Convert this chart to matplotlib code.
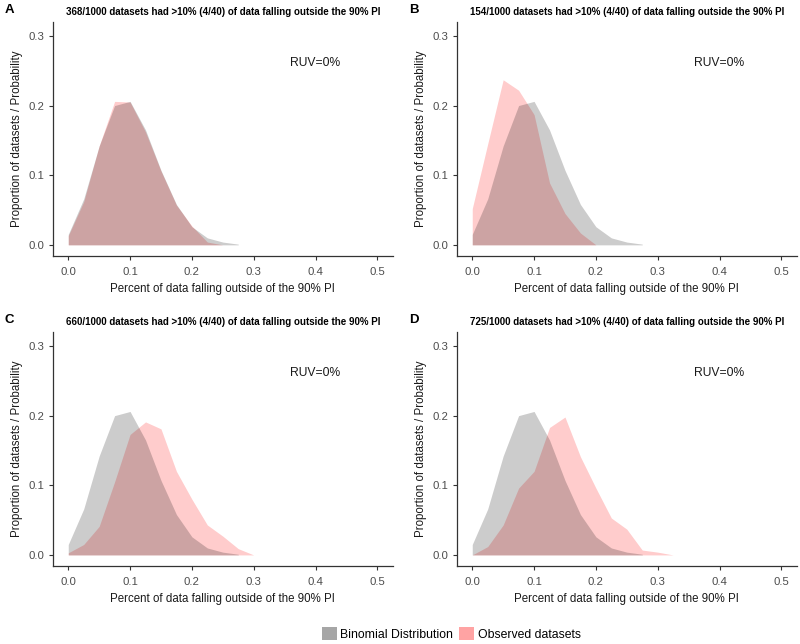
import numpy as np
import matplotlib.pyplot as plt
from matplotlib.patches import Patch

plt.rcParams['font.family'] = ['Liberation Sans', 'DejaVu Sans']

# x positions: k/40 data falling outside the PI
x_binom = [0.0, 0.025, 0.05, 0.075, 0.1, 0.125, 0.15, 0.175, 0.2, 0.225, 0.25, 0.275]
y_binom = [0.015, 0.066, 0.142, 0.200, 0.206, 0.165, 0.107, 0.058, 0.026, 0.010, 0.004, 0.001]

x_obs_a = [0.0, 0.025, 0.05, 0.075, 0.1, 0.125, 0.15, 0.175, 0.2, 0.225, 0.25]
y_obs_a = [0.013, 0.062, 0.142, 0.206, 0.205, 0.162, 0.106, 0.057, 0.027, 0.004, 0.0]

x_obs_b = [0.0, 0.025, 0.05, 0.075, 0.1, 0.125, 0.15, 0.175, 0.2]
y_obs_b = [0.052, 0.145, 0.237, 0.222, 0.187, 0.089, 0.045, 0.017, 0.0]

x_obs_c = [0.0, 0.025, 0.05, 0.075, 0.1, 0.125, 0.15, 0.175, 0.2, 0.225, 0.25, 0.275, 0.3]
y_obs_c = [0.003, 0.015, 0.041, 0.105, 0.173, 0.191, 0.181, 0.120, 0.080, 0.043, 0.027, 0.009, 0.0]

x_obs_d = [0.0, 0.025, 0.05, 0.075, 0.1, 0.125, 0.15, 0.175, 0.2, 0.225, 0.25, 0.275, 0.3, 0.325]
y_obs_d = [0.0, 0.012, 0.043, 0.096, 0.120, 0.183, 0.198, 0.141, 0.096, 0.053, 0.037, 0.007, 0.004, 0.0]

letters = ['A', 'B', 'C', 'D']
counts = ['368', '154', '660', '725']
observed = [(x_obs_a, y_obs_a), (x_obs_b, y_obs_b), (x_obs_c, y_obs_c), (x_obs_d, y_obs_d)]

# posiciones de los paneles en fracción de figura
lefts = [0.066, 0.571, 0.066, 0.571]
bottoms = [0.6025, 0.6025, 0.121, 0.121]
w, h = 0.425, 0.3634

fig = plt.figure(figsize=(8, 6.44), dpi=100)
axis_col = '#333333'

for i in range(4):
    ax = fig.add_axes([lefts[i], bottoms[i], w, h])
    xo, yo = observed[i]
    ax.fill_between(xo, 0, yo, color='red', alpha=0.2, linewidth=0)
    ax.fill_between(x_binom, 0, y_binom, color='black', alpha=0.2, linewidth=0)

    ax.set_xlim(-0.025, 0.525)
    ax.set_ylim(-0.016, 0.32)
    ax.set_xticks([0.0, 0.1, 0.2, 0.3, 0.4, 0.5])
    ax.set_yticks([0.0, 0.1, 0.2, 0.3])
    ax.set_xticklabels(['0.0', '0.1', '0.2', '0.3', '0.4', '0.5'])
    ax.set_yticklabels(['0.0', '0.1', '0.2', '0.3'])
    for s in ['top', 'right']:
        ax.spines[s].set_visible(False)
    for s in ['left', 'bottom']:
        ax.spines[s].set_color(axis_col)
        ax.spines[s].set_linewidth(0.9)
    ax.tick_params(direction='out', length=3, width=0.8, color=axis_col,
                   labelsize=8.2, labelcolor='#4d4d4d', pad=3)
    ax.tick_params(axis='x', pad=5)

    ax.set_xlabel('Percent of data falling outside of the 90% PI', fontsize=8.3,
                  color='#1a1a1a', labelpad=4)
    ax.set_ylabel('Proportion of datasets / Probability', fontsize=8.3,
                  color='#1a1a1a', labelpad=4)
    ax.set_title(counts[i] + '/1000 datasets had >10% (4/40) of data falling outside the 90% PI',
                 fontsize=7, fontweight='bold', pad=5)
    ax.text(0.4, 0.261, 'RUV=0%', ha='center', va='center', fontsize=8.7, color='#1a1a1a')

    fig.text(lefts[i] - 0.06, bottoms[i] + h + 0.018, letters[i], fontsize=9.5,
             fontweight='bold', ha='left', va='center')

handles = [Patch(facecolor='#a6a6a6', edgecolor='none', label='Binomial Distribution'),
           Patch(facecolor='#ffa3a3', edgecolor='none', label='Observed datasets')]
fig.legend(handles=handles, loc='center', bbox_to_anchor=(0.564, 0.016), ncol=2,
           frameon=False, fontsize=8.8, handlelength=1.2, handleheight=1.3,
           handletextpad=0.3, columnspacing=0.5)

fig.savefig('out.png', dpi=100)
